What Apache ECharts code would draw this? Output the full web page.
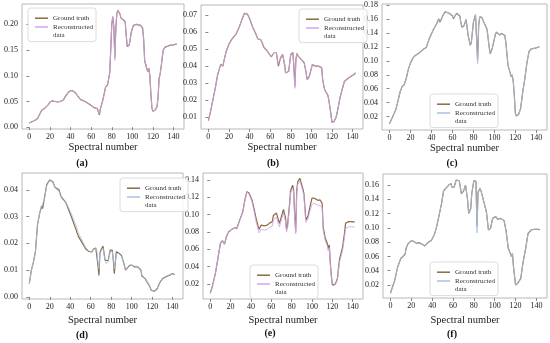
<!DOCTYPE html>
<html>
<head>
<meta charset="utf-8">
<script src="https://cdn.jsdelivr.net/npm/echarts@6/dist/echarts.min.js"></script>
<style>
html,body{margin:0;padding:0;background:#fff;}
#main{width:550px;height:343px;}
</style>
</head>
<body>
<div id="main"></div>
<script>
// ---------- DATA ----------
const xTicks = [0, 20, 40, 60, 80, 100, 120, 140];
const panelLabels = ['(a)', '(b)', '(c)', '(d)', '(e)', '(f)'];
const seriesNames = ['Ground truth', 'Reconstructed data'];
const xAxisTitle = 'Spectral number';

const yTicksA = [0.00, 0.05, 0.10, 0.15, 0.20];
const yTicksB = [0.01, 0.02, 0.03, 0.04, 0.05, 0.06, 0.07];
const yTicksC = [0.02, 0.04, 0.06, 0.08, 0.10, 0.12, 0.14, 0.16, 0.18];
const yTicksD = [0.00, 0.01, 0.02, 0.03, 0.04];
const yTicksE = [0.02, 0.04, 0.06, 0.08, 0.10, 0.12, 0.14];
const yTicksF = [0.02, 0.04, 0.06, 0.08, 0.10, 0.12, 0.14, 0.16];

// (a)
const bandsA = [0,3,6,8,10,12,15,18,20,22,25,28,30,33,35,38,40,42,45,48,50,52,55,58,60,63,66,67,68,69,71,73,74,76,78,79,80,81,82,83,84,85,86,87,88,89,91,93,94,95,96,97,99,101,104,106,108,110,111,112,113,114,115,116,117,118,119,120,122,123,124,125,126,127,128,129,130,132,134,136,140,143];
const truthA = [0.008,0.011,0.014,0.017,0.025,0.033,0.037,0.043,0.049,0.051,0.050,0.049,0.050,0.053,0.060,0.068,0.071,0.071,0.066,0.058,0.053,0.052,0.049,0.045,0.042,0.038,0.036,0.035,0.024,0.036,0.050,0.068,0.078,0.083,0.105,0.150,0.200,0.215,0.195,0.135,0.195,0.222,0.227,0.225,0.220,0.212,0.209,0.205,0.180,0.157,0.155,0.160,0.185,0.198,0.200,0.199,0.198,0.192,0.170,0.128,0.122,0.113,0.108,0.115,0.100,0.065,0.037,0.031,0.033,0.034,0.040,0.060,0.095,0.104,0.118,0.135,0.150,0.156,0.157,0.159,0.160,0.162];
const reconA = [0.008,0.011,0.014,0.017,0.025,0.033,0.037,0.043,0.049,0.051,0.050,0.049,0.050,0.053,0.060,0.068,0.071,0.071,0.066,0.058,0.053,0.052,0.049,0.045,0.042,0.038,0.036,0.035,0.026,0.036,0.050,0.068,0.078,0.083,0.105,0.150,0.200,0.214,0.193,0.130,0.195,0.222,0.226,0.225,0.220,0.212,0.209,0.205,0.180,0.158,0.156,0.160,0.185,0.198,0.200,0.199,0.198,0.192,0.170,0.128,0.122,0.113,0.108,0.114,0.100,0.065,0.037,0.031,0.033,0.034,0.040,0.060,0.095,0.104,0.118,0.135,0.150,0.156,0.157,0.159,0.160,0.162];

// (b)
const bandsB = [0,2,4,7,9,11,12,14,17,20,23,27,30,33,35,36,38,40,43,46,48,51,54,57,61,62,64,66,67,68,70,72,74,75,76,78,80,82,83,84,85,86,87,91,93,95,96,98,101,104,107,110,111,113,116,117,119,120,122,124,125,128,132,136,141,143];
const truthB = [0.008,0.013,0.019,0.028,0.035,0.039,0.041,0.040,0.048,0.053,0.056,0.059,0.063,0.068,0.071,0.072,0.0705,0.068,0.063,0.059,0.056,0.0555,0.051,0.049,0.0455,0.046,0.048,0.048,0.044,0.040,0.0447,0.047,0.041,0.036,0.035,0.037,0.047,0.048,0.040,0.028,0.044,0.0475,0.046,0.0434,0.042,0.036,0.032,0.034,0.041,0.040,0.040,0.039,0.032,0.026,0.023,0.020,0.012,0.007,0.0075,0.010,0.0125,0.022,0.031,0.033,0.035,0.036];
const reconB = [0.008,0.013,0.019,0.028,0.035,0.039,0.041,0.040,0.048,0.053,0.056,0.059,0.063,0.068,0.071,0.072,0.0705,0.068,0.063,0.059,0.056,0.0555,0.051,0.049,0.0455,0.046,0.048,0.048,0.044,0.041,0.0447,0.047,0.041,0.036,0.035,0.037,0.047,0.048,0.040,0.027,0.044,0.0475,0.046,0.0434,0.042,0.036,0.032,0.034,0.041,0.040,0.040,0.039,0.032,0.026,0.023,0.020,0.012,0.0068,0.0075,0.010,0.0125,0.022,0.031,0.033,0.035,0.036];

// (c)
const bandsC = [0,3,6,8,10,12,14,16,18,20,22,24,26,27,29,32,35,38,42,45,47,48,49,51,53,57,60,61,62,64,67,68,69,71,73,75,77,78,80,82,83,84,85,86,88,90,93,95,96,98,101,102,105,107,110,111,113,115,116,117,118,119,120,121,123,125,127,129,131,133,135,139,143];
const truthC = [0.010,0.020,0.030,0.042,0.055,0.063,0.066,0.075,0.088,0.097,0.103,0.107,0.109,0.107,0.112,0.116,0.119,0.132,0.145,0.153,0.160,0.155,0.158,0.165,0.170,0.168,0.164,0.160,0.163,0.168,0.164,0.155,0.148,0.150,0.159,0.136,0.122,0.126,0.155,0.166,0.164,0.100,0.150,0.163,0.162,0.155,0.145,0.120,0.110,0.118,0.138,0.141,0.137,0.139,0.136,0.125,0.093,0.083,0.077,0.080,0.070,0.050,0.025,0.021,0.023,0.032,0.055,0.074,0.097,0.113,0.117,0.118,0.120];
const reconC = [0.010,0.020,0.030,0.042,0.055,0.063,0.066,0.075,0.088,0.097,0.103,0.107,0.109,0.107,0.112,0.116,0.119,0.132,0.145,0.153,0.159,0.156,0.158,0.165,0.170,0.168,0.164,0.161,0.163,0.168,0.164,0.155,0.149,0.150,0.158,0.136,0.123,0.126,0.155,0.166,0.164,0.096,0.150,0.163,0.162,0.155,0.145,0.120,0.111,0.118,0.138,0.141,0.137,0.139,0.136,0.125,0.093,0.083,0.077,0.080,0.070,0.050,0.025,0.021,0.023,0.032,0.055,0.074,0.097,0.113,0.117,0.118,0.120];

// (d)
const bandsD = [0,2,4,6,7,8,10,12,13,15,17,20,21,23,25,27,29,31,33,36,39,42,45,48,52,55,58,61,63,65,66,67,68,69,70,72,74,75,77,79,81,82,83,85,87,90,92,94,95,98,100,103,106,109,110,113,115,116,118,119,120,122,125,127,130,134,137,140,142];
const truthD = [0.005,0.010,0.013,0.017,0.022,0.027,0.031,0.034,0.033,0.0375,0.042,0.0437,0.044,0.043,0.041,0.0405,0.040,0.0375,0.0365,0.035,0.032,0.029,0.0258,0.0225,0.020,0.018,0.017,0.0168,0.018,0.0182,0.0175,0.012,0.008,0.0165,0.0175,0.019,0.0137,0.013,0.0135,0.0175,0.0175,0.014,0.0087,0.0168,0.0165,0.0155,0.013,0.010,0.0105,0.0118,0.0119,0.0112,0.0112,0.010,0.0078,0.0069,0.0056,0.005,0.0037,0.0025,0.0018,0.0021,0.003,0.005,0.0068,0.0076,0.0081,0.0087,0.0083];
const reconD = [0.005,0.010,0.013,0.017,0.022,0.027,0.031,0.0335,0.0335,0.037,0.0415,0.0435,0.0438,0.0428,0.041,0.040,0.0395,0.0372,0.0362,0.0352,0.0328,0.0302,0.0272,0.0238,0.0208,0.0185,0.0172,0.0168,0.0178,0.018,0.0172,0.0135,0.0105,0.0162,0.017,0.0182,0.0135,0.0125,0.013,0.0168,0.017,0.0142,0.0105,0.016,0.0162,0.0152,0.0128,0.0102,0.0105,0.0115,0.0118,0.0115,0.0114,0.0102,0.008,0.007,0.0058,0.0052,0.0038,0.0026,0.002,0.0022,0.0032,0.0052,0.007,0.0078,0.0083,0.0088,0.0084];

// (e)
const bandsE = [0,2,5,8,10,12,13,14,16,18,21,24,26,29,32,34,36,38,41,43,45,47,48,50,53,56,58,61,62,65,66,68,70,72,74,75,76,78,79,81,82,83,84,85,86,88,89,91,92,94,96,98,100,102,104,106,108,110,111,113,115,116,117,118,119,120,123,125,127,130,132,133,136,139,142];
const truthE = [0.0093,0.017,0.032,0.053,0.067,0.070,0.069,0.066,0.075,0.080,0.083,0.085,0.084,0.094,0.1035,0.117,0.1265,0.125,0.117,0.107,0.096,0.087,0.083,0.088,0.087,0.088,0.090,0.092,0.099,0.102,0.1015,0.090,0.098,0.106,0.096,0.083,0.088,0.113,0.128,0.134,0.128,0.100,0.080,0.128,0.138,0.142,0.138,0.130,0.125,0.094,0.098,0.109,0.119,0.119,0.118,0.1165,0.117,0.113,0.086,0.073,0.067,0.061,0.065,0.045,0.030,0.019,0.020,0.0265,0.048,0.062,0.079,0.090,0.092,0.092,0.0915];
const reconE = [0.0093,0.017,0.032,0.053,0.067,0.070,0.069,0.066,0.075,0.080,0.083,0.0845,0.0835,0.093,0.103,0.116,0.126,0.124,0.115,0.104,0.092,0.083,0.079,0.083,0.082,0.083,0.085,0.087,0.094,0.097,0.097,0.086,0.094,0.102,0.092,0.080,0.085,0.110,0.125,0.131,0.125,0.096,0.078,0.124,0.135,0.139,0.135,0.127,0.121,0.091,0.095,0.104,0.112,0.113,0.112,0.111,0.111,0.108,0.082,0.070,0.064,0.058,0.062,0.043,0.029,0.018,0.019,0.025,0.045,0.058,0.074,0.084,0.086,0.086,0.0858];

// (f)
const bandsF = [0,2,4,7,10,12,14,15,17,20,23,25,27,30,33,34,37,39,42,44,46,47,49,51,54,56,58,59,61,63,66,68,70,72,74,75,77,78,80,82,83,84,86,87,90,92,94,96,98,101,103,106,109,111,113,114,116,117,118,120,122,125,127,130,132,135,138,142,143];
const truthF = [0.0084,0.0177,0.026,0.0456,0.0575,0.060,0.063,0.0713,0.078,0.082,0.0807,0.078,0.0793,0.0775,0.0747,0.0775,0.0807,0.082,0.090,0.100,0.113,0.1157,0.134,0.152,0.1567,0.160,0.1623,0.157,0.1567,0.167,0.166,0.148,0.151,0.160,0.139,0.120,0.127,0.148,0.166,0.165,0.102,0.150,0.1553,0.151,0.134,0.1227,0.097,0.0993,0.1133,0.1157,0.112,0.1133,0.110,0.0947,0.0713,0.068,0.0597,0.0643,0.0456,0.0199,0.0223,0.0293,0.0503,0.0737,0.0923,0.097,0.098,0.098,0.097];
const reconF = [0.0084,0.0177,0.026,0.0456,0.0575,0.060,0.063,0.0713,0.078,0.082,0.0807,0.078,0.0793,0.0775,0.0747,0.0775,0.0807,0.082,0.090,0.100,0.113,0.1157,0.134,0.152,0.1567,0.160,0.1623,0.157,0.1567,0.167,0.166,0.149,0.151,0.160,0.139,0.121,0.127,0.148,0.166,0.165,0.093,0.150,0.1553,0.151,0.134,0.1227,0.097,0.0993,0.1133,0.1157,0.112,0.1133,0.110,0.0947,0.0713,0.068,0.0597,0.0643,0.0456,0.0199,0.0223,0.0293,0.0503,0.0737,0.0923,0.097,0.098,0.098,0.097];

// ---------- STYLE / LAYOUT ----------
const FONT = 'Liberation Serif';
const TRUTH_COLOR = '#8b6b42';
const LAVENDER = '#cfa6f2';
const LIGHTBLUE = '#a9c1e6';

const panels = [
  {bands: bandsA, truth: truthA, recon: reconA, yTicks: yTicksA, ymin: -0.0035, ymax: 0.2395,
   grid: {left: 22, top: 4, width: 162, height: 125}, recColor: LAVENDER, legend: {left: 28, top: 8}, nameGap: 12, label: [82, 163]},
  {bands: bandsB, truth: truthB, recon: reconB, yTicks: yTicksB, ymin: 0.0031, ymax: 0.0759,
   grid: {left: 201, top: 5, width: 162, height: 124}, recColor: LAVENDER, legend: {left: 299, top: 9}, nameGap: 12, label: [273, 163]},
  {bands: bandsC, truth: truthC, recon: reconC, yTicks: yTicksC, ymin: 0.001, ymax: 0.1812,
   grid: {left: 382, top: 4, width: 165, height: 126}, recColor: LIGHTBLUE, legend: {left: 430, top: 94}, nameGap: 11, label: [452, 163]},
  {bands: bandsD, truth: truthD, recon: reconD, yTicks: yTicksD, ymin: -0.0008, ymax: 0.0463,
   grid: {left: 22, top: 173, width: 161, height: 126}, recColor: LIGHTBLUE, legend: {left: 120, top: 178}, nameGap: 16, label: [82, 335]},
  {bands: bandsE, truth: truthE, recon: reconE, yTicks: yTicksE, ymin: 0.0027, ymax: 0.1481,
   grid: {left: 203, top: 173, width: 160, height: 126}, recColor: LAVENDER, legend: {left: 250, top: 265}, nameGap: 16, label: [270, 333]},
  {bands: bandsF, truth: truthF, recon: reconF, yTicks: yTicksF, ymin: 0.0018, ymax: 0.1754,
   grid: {left: 383, top: 174, width: 164, height: 124}, recColor: LIGHTBLUE, legend: {left: 430, top: 262}, nameGap: 17, label: [452, 334]}
];

const grids = [], xAxes = [], yAxes = [], series = [], legends = [], graphics = [];
panels.forEach((p, i) => {
  grids.push(Object.assign({show: true, borderColor: '#b8b8b8', borderWidth: 1, backgroundColor: '#fff'}, p.grid));
  xAxes.push({
    type: 'value', gridIndex: i, min: -7.15, max: 150.15,
    axisLine: {show: false},
    axisTick: {show: true, length: 3, inside: false, lineStyle: {color: '#888'}, customValues: xTicks},
    axisLabel: {customValues: xTicks, fontFamily: FONT, fontSize: 8, color: '#222', margin: 4},
    splitLine: {show: false},
    name: xAxisTitle, nameLocation: 'middle', nameGap: p.nameGap,
    nameTextStyle: {fontFamily: FONT, fontSize: 10.5, color: '#222'}
  });
  yAxes.push({
    type: 'value', gridIndex: i, min: p.ymin, max: p.ymax,
    axisLine: {show: false},
    axisTick: {show: true, length: 3, lineStyle: {color: '#888'}, customValues: p.yTicks},
    axisLabel: {customValues: p.yTicks, fontFamily: FONT, fontSize: 8, color: '#222', margin: 4,
      formatter: v => v.toFixed(2)},
    splitLine: {show: false}
  });
  series.push({
    type: 'line', name: seriesNames[0], xAxisIndex: i, yAxisIndex: i,
    data: p.bands.map((b, k) => [b, p.truth[k]]),
    symbol: 'none', showSymbol: false, animation: false, z: 2,
    lineStyle: {color: TRUTH_COLOR, width: 1.2}, itemStyle: {color: TRUTH_COLOR}
  });
  series.push({
    type: 'line', name: seriesNames[1], xAxisIndex: i, yAxisIndex: i,
    data: p.bands.map((b, k) => [b, p.recon[k]]),
    symbol: 'none', showSymbol: false, animation: false, z: 3,
    lineStyle: {color: p.recColor, width: 1, opacity: 0.85}, itemStyle: {color: p.recColor}
  });
  legends.push({
    left: p.legend.left, top: p.legend.top, orient: 'vertical', selectedMode: false,
    icon: 'rect', itemWidth: 13, itemHeight: 1.5, itemGap: -8,
    backgroundColor: 'rgba(255,255,255,0.85)', borderColor: '#dcdcdc', borderWidth: 1, borderRadius: 3,
    padding: [6, 3, 2, 7],
    textStyle: {fontFamily: FONT, fontSize: 7, color: '#333', lineHeight: 8.4},
    formatter: n => n === seriesNames[1] ? ' \nReconstructed\ndata' : n,
    data: [
      {name: seriesNames[0], itemStyle: {color: TRUTH_COLOR}},
      {name: seriesNames[1], itemStyle: {color: p.recColor}}
    ]
  });
  graphics.push({
    type: 'text', x: p.label[0], y: p.label[1],
    style: {text: panelLabels[i], fontFamily: FONT, fontSize: 10, fontWeight: 'bold', fill: '#111',
      textAlign: 'center', textVerticalAlign: 'middle'}
  });
});

const chart = echarts.init(document.getElementById('main'), null, {renderer: 'canvas'});
chart.setOption({
  backgroundColor: '#fff',
  animation: false,
  grid: grids, xAxis: xAxes, yAxis: yAxes, series: series, legend: legends, graphic: graphics
});
</script>
</body>
</html>
